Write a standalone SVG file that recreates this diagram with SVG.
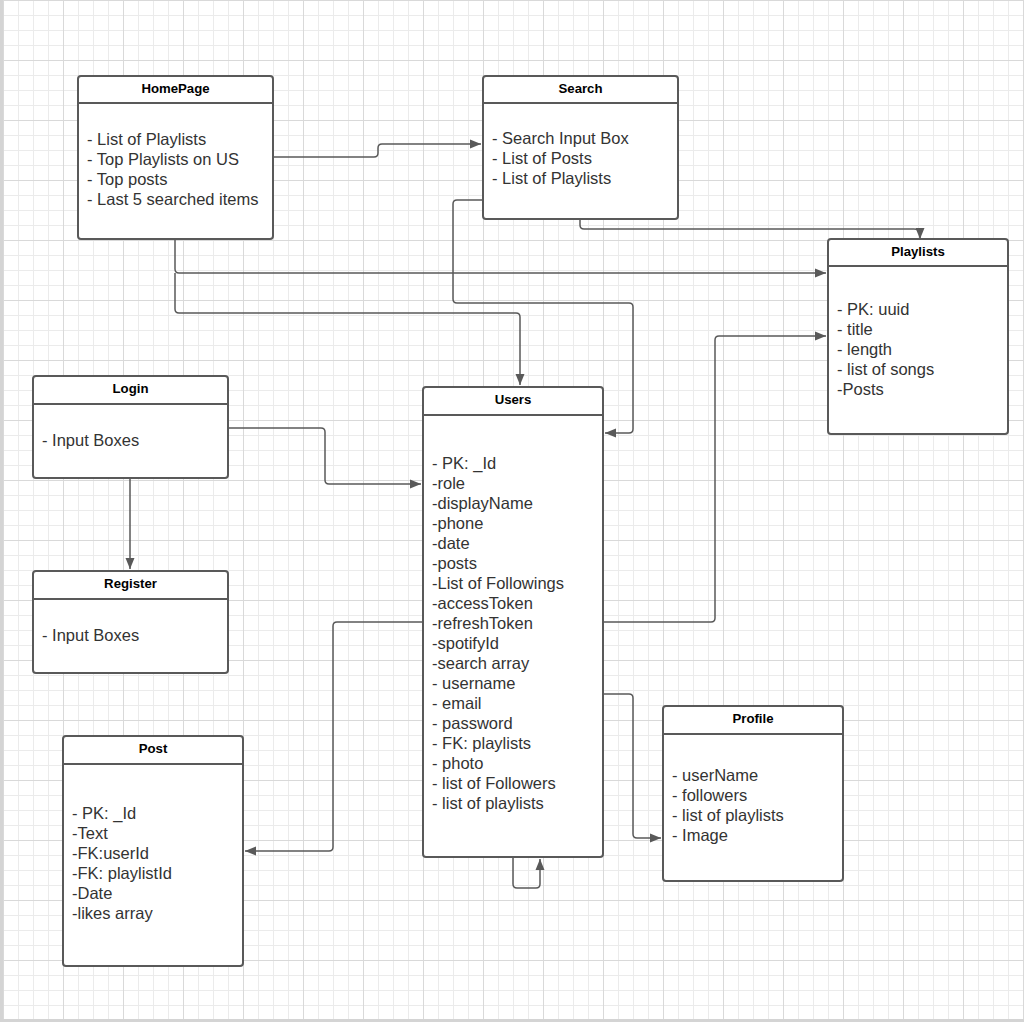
<svg xmlns="http://www.w3.org/2000/svg" width="1024" height="1022" viewBox="0 0 1024 1022">
<defs>
<pattern id="grid" patternUnits="userSpaceOnUse" x="3" y="0" width="60" height="60">
<rect width="60" height="60" fill="#ffffff"/>
<path d="M15.5,0V60M30.5,0V60M45.5,0V60M0,15.5H60M0,30.5H60M0,45.5H60" stroke="#ebebeb" stroke-width="1" fill="none"/>
<path d="M0.5,0V60M0,0.5H60" stroke="#d9d9d9" stroke-width="1" fill="none"/>
</pattern>
<marker id="arr" markerWidth="12" markerHeight="10" refX="11" refY="5" orient="auto" markerUnits="userSpaceOnUse">
<path d="M0,0.5L11,5L0,9.5Z" fill="#595959"/>
</marker>
<style>
.box{fill:#ffffff;stroke:#595959;stroke-width:2}
.hd{stroke:#595959;stroke-width:2;fill:none}
.t{font-family:"Liberation Sans",Arial,sans-serif;font-weight:bold;font-size:13.2px;fill:#000000;text-anchor:middle}
.b{font-family:"Liberation Sans",Arial,sans-serif;font-size:16.5px;fill:#333333}
.c{fill:none;stroke:#595959;stroke-width:1.5;marker-end:url(#arr)}
.cn{fill:none;stroke:#595959;stroke-width:1.5}
</style>
</defs>
<rect x="0" y="0" width="1024" height="1022" fill="url(#grid)"/>
<rect x="0" y="0" width="3" height="1022" fill="#d4d4d4"/>
<rect x="0" y="1019" width="1024" height="3" fill="#d4d4d4"/>

<g id="connectors">
<path class="c" d="M273,157H374Q378,157 378,153V148Q378,144 382,144H481"/>
<path class="c" d="M580,219V225Q580,229 584,229H914Q920,229 920,235V239"/>
<path class="c" d="M175,239V269Q175,273 179,273H826"/>
<path class="c" d="M175,273V309Q175,313 179,313H516Q520,313 520,317V385"/>
<path class="c" d="M483,200H457Q453,200 453,204V299Q453,303 457,303H629Q633,303 633,307V429Q633,433 629,433H605"/>
<path class="c" d="M228,428H321Q325,428 325,432V480Q325,484 329,484H421"/>
<path class="c" d="M130,478V569"/>
<path class="c" d="M603,622H711Q715,622 715,618V340Q715,336 719,336H826"/>
<path class="c" d="M423,622H337Q333,622 333,626V847Q333,851 329,851H245"/>
<path class="c" d="M603,694H629Q633,694 633,698V834Q633,838 637,838H661"/>
<path class="c" d="M513,857V884Q513,888 517,888H536Q540,888 540,884V859"/>
</g>

<g id="homepage">
<rect class="box" x="78" y="76" width="195" height="163" rx="3"/>
<path class="hd" d="M78,103H273"/>
<text class="t" x="175.5" y="93">HomePage</text>
<text class="b" x="87" y="145">- List of Playlists</text>
<text class="b" x="87" y="165">- Top Playlists on US</text>
<text class="b" x="87" y="185">- Top posts</text>
<text class="b" x="87" y="205">- Last 5 searched items</text>
</g>

<g id="search">
<rect class="box" x="483" y="76" width="195" height="143" rx="3"/>
<path class="hd" d="M483,103H678"/>
<text class="t" x="580.5" y="93">Search</text>
<text class="b" x="492" y="144">- Search Input Box</text>
<text class="b" x="492" y="164">- List of Posts</text>
<text class="b" x="492" y="184">- List of Playlists</text>
</g>

<g id="playlists">
<rect class="box" x="828" y="239" width="180" height="195" rx="3"/>
<path class="hd" d="M828,266H1008"/>
<text class="t" x="918" y="256">Playlists</text>
<text class="b" x="837" y="315">- PK: uuid</text>
<text class="b" x="837" y="335">- title</text>
<text class="b" x="837" y="355">- length</text>
<text class="b" x="837" y="375">- list of songs</text>
<text class="b" x="837" y="395">-Posts</text>
</g>

<g id="login">
<rect class="box" x="33" y="376" width="195" height="102" rx="3"/>
<path class="hd" d="M33,404H228"/>
<text class="t" x="130.5" y="393">Login</text>
<text class="b" x="42" y="446">- Input Boxes</text>
</g>

<g id="register">
<rect class="box" x="33" y="571" width="195" height="102" rx="3"/>
<path class="hd" d="M33,599H228"/>
<text class="t" x="130.5" y="588">Register</text>
<text class="b" x="42" y="641">- Input Boxes</text>
</g>

<g id="users">
<rect class="box" x="423" y="387" width="180" height="470" rx="3"/>
<path class="hd" d="M423,415H603"/>
<text class="t" x="513" y="404">Users</text>
<text class="b" x="432" y="469">- PK: _Id</text>
<text class="b" x="432" y="489">-role</text>
<text class="b" x="432" y="509">-displayName</text>
<text class="b" x="432" y="529">-phone</text>
<text class="b" x="432" y="549">-date</text>
<text class="b" x="432" y="569">-posts</text>
<text class="b" x="432" y="589">-List of Followings</text>
<text class="b" x="432" y="609">-accessToken</text>
<text class="b" x="432" y="629">-refreshToken</text>
<text class="b" x="432" y="649">-spotifyId</text>
<text class="b" x="432" y="669">-search array</text>
<text class="b" x="432" y="689">- username</text>
<text class="b" x="432" y="709">- email</text>
<text class="b" x="432" y="729">- password</text>
<text class="b" x="432" y="749">- FK: playlists</text>
<text class="b" x="432" y="769">- photo</text>
<text class="b" x="432" y="789">- list of Followers</text>
<text class="b" x="432" y="809">- list of playlists</text>
</g>

<g id="profile">
<rect class="box" x="663" y="706" width="180" height="175" rx="3"/>
<path class="hd" d="M663,734H843"/>
<text class="t" x="753" y="723">Profile</text>
<text class="b" x="672" y="781">- userName</text>
<text class="b" x="672" y="801">- followers</text>
<text class="b" x="672" y="821">- list of playlists</text>
<text class="b" x="672" y="841">- Image</text>
</g>

<g id="post">
<rect class="box" x="63" y="736" width="180" height="230" rx="3"/>
<path class="hd" d="M63,764H243"/>
<text class="t" x="153" y="753">Post</text>
<text class="b" x="72" y="819">- PK: _Id</text>
<text class="b" x="72" y="839">-Text</text>
<text class="b" x="72" y="859">-FK:userId</text>
<text class="b" x="72" y="879">-FK: playlistId</text>
<text class="b" x="72" y="899">-Date</text>
<text class="b" x="72" y="919">-likes array</text>
</g>
</svg>
